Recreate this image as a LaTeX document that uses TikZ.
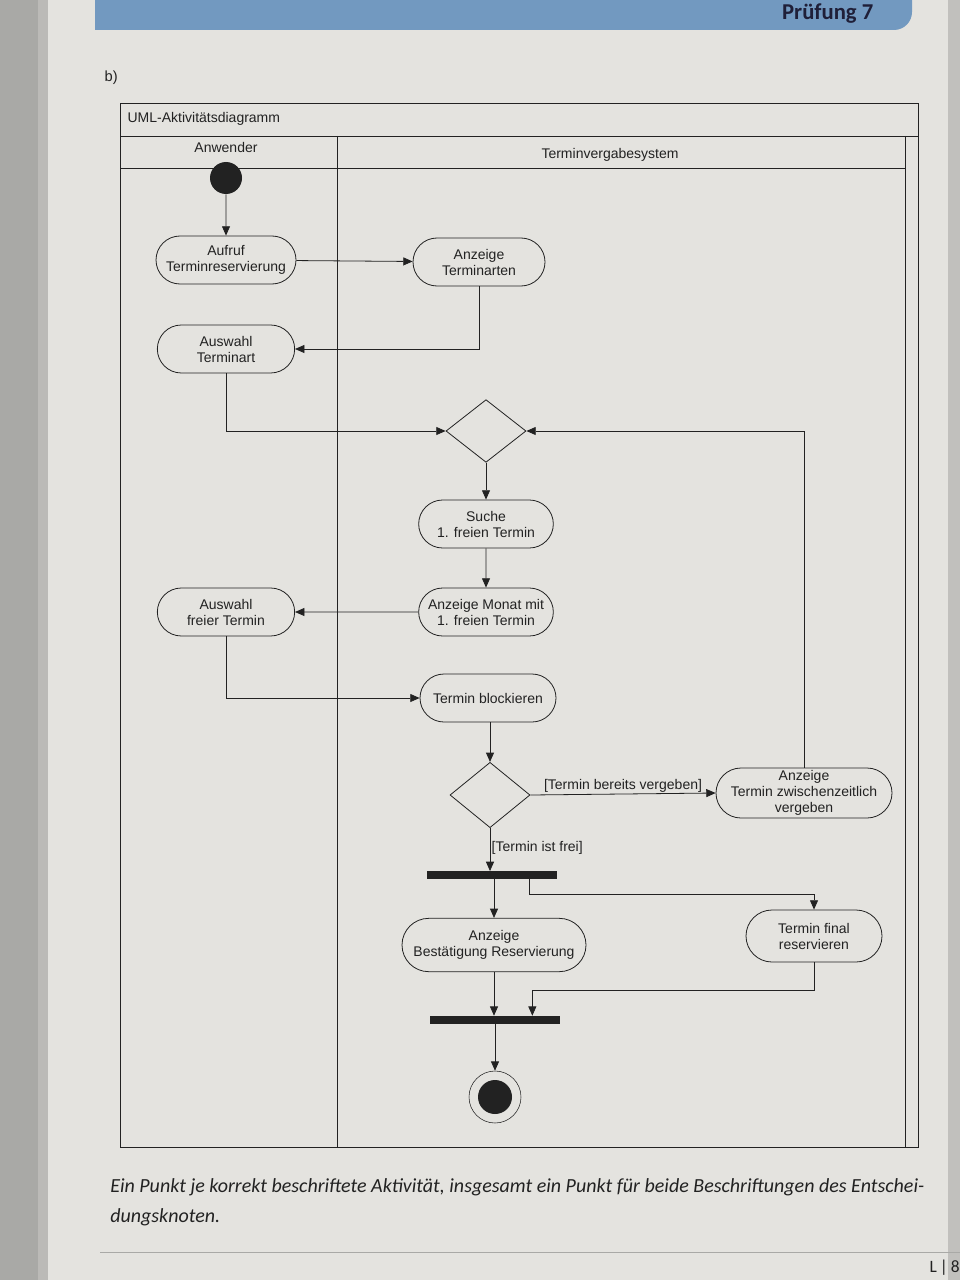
\documentclass[tikz,border=0pt]{standalone}
\usepackage{fontspec}
\setmainfont{Liberation Sans}
\newfontfamily\capfont{Carlito}
\usetikzlibrary{shapes.geometric,shapes.misc,arrows.meta,calc}
\definecolor{paper}{HTML}{E4E3DF}
\definecolor{gutter}{HTML}{A9A9A6}
\definecolor{banner}{HTML}{7299C0}
\definecolor{ink}{HTML}{222222}
\begin{document}
\begin{tikzpicture}[x=0.75pt,y=-0.75pt,
  act/.style={draw=ink, line width=0.6pt, rounded rectangle, minimum height=36pt,
    align=center, inner sep=2pt, font=\fontsize{10.5}{12}\selectfont, text=ink},
  flow/.style={draw=ink, line width=0.6pt, -{Triangle[length=7pt,width=6pt]}},
  plain/.style={draw=ink, line width=0.6pt},
  decis/.style={draw=ink, line width=0.6pt, diamond, minimum width=60pt, minimum height=47pt, inner sep=0pt},
  bar/.style={fill=ink, minimum height=5.5pt, inner sep=0pt},
  lbl/.style={font=\fontsize{10.5}{12}\selectfont, text=ink, inner sep=1pt}]
\useasboundingbox (0,0) rectangle (960,1280);
\fill[paper] (0,0) rectangle (960,1280);
\fill[gutter] (0,0) rectangle (38,1280);
\fill[gutter!70!paper] (38,0) rectangle (48,1280);
\fill[gutter!60!paper] (948,0) rectangle (960,1280);
% banner
\fill[banner] (95,0) -- (912,0) -- (912,12) arc[start angle=0,end angle=90,radius=18] -- (95,30) -- cycle;
\node[font=\capfont\bfseries\fontsize{17}{20}\selectfont, text=ink!90!blue, anchor=east] (pr) at (878,14) {Prüfung 7};
\node[font=\fontsize{11}{13}\selectfont, text=ink, anchor=west] (b) at (100,78) {b)};
% frame
\draw[plain] (120,103) rectangle (918,1147);
\draw[plain] (120,136) -- (918,136);
\draw[plain] (120,168) -- (905,168);
\draw[plain] (337,136) -- (337,1147);
\draw[plain] (905,136) -- (905,1147);
\node[lbl, anchor=west] (title) at (126,119) {UML-Aktivitätsdiagramm};
\node[lbl] (lane1) at (226,147) {Anwender};
\node[lbl] (lane2) at (610,155) {Terminvergabesystem};
% nodes
\node[circle, fill=ink, minimum size=24pt, inner sep=0] (init) at (226,178) {};
\node[act, minimum width=109pt] (aufruf) at (226,260) {Aufruf\\Terminreservierung};
\node[act, minimum width=103pt] (arten) at (479,262) {Anzeige\\Terminarten};
\node[act, minimum width=107pt] (wart) at (226,349) {Auswahl\\Terminart};
\node[decis] (d1) at (486,431) {};
\node[act, minimum width=105pt] (suche) at (486,524) {Suche\\1. freien Termin};
\node[act, minimum width=105pt] (monat) at (486,612) {Anzeige Monat mit\\1. freien Termin};
\node[act, minimum width=107pt] (wfrei) at (226,612) {Auswahl\\freier Termin};
\node[act, minimum width=106pt] (block) at (488,698) {Termin blockieren};
\node[decis, minimum height=49pt] (d2) at (490,795) {};
\node[act, minimum width=134pt, minimum height=37.5pt, inner sep=1pt] (zw) at (804,793) {Anzeige\\Termin zwischenzeitlich\\vergeben};
\node[bar, minimum width=97pt] (fork) at (492,875) {};
\node[act, minimum width=142pt, minimum height=40pt] (best) at (494,945) {Anzeige\\Bestätigung Reservierung};
\node[act, minimum width=106pt, minimum height=39pt] (tfin) at (814,936) {Termin final\\reservieren};
\node[bar, minimum width=98pt, minimum height=6pt] (join) at (495,1020) {};
\node[circle, draw=ink, line width=0.4pt, minimum size=39pt, inner sep=0] (fin) at (495,1097) {};
\node[circle, fill=ink, minimum size=25.5pt, inner sep=0] (finin) at (fin) {};
\coordinate (jy) at (0,990);
% edges
\draw[flow] (init) -- (aufruf);
\draw[flow] (aufruf) -- (arten);
\draw[flow] (arten.south) |- (wart.east);
\draw[flow] (wart.south) |- (d1.west);
\draw[flow] (d1.south) -- (suche.north);
\draw[flow] (suche) -- (monat);
\draw[flow] (monat) -- (wfrei);
\draw[flow] (wfrei.south) |- (block.west);
\draw[flow] (block.south -| d2.north) -- (d2.north);
\draw[flow] (d2.east) -- node[lbl, above] (lab1) {[Termin bereits vergeben]} (zw.west);
\draw[flow] (zw.north) |- (d1.east);
\draw[flow] (d2.south) -- node[lbl, right, pos=0.45] (lab2) {[Termin ist frei]} (fork.north -| d2.south);
\draw[flow] (fork.south -| best.north) -- (best.north);
\draw[flow] ([xshift=28pt]fork.south) -- ++(0,15) -| (tfin.north);
\draw[flow] (best.south) -- (best.south |- join.north);
\draw[flow] (tfin.south) -- (tfin.south |- jy) -| ([xshift=28pt]join.north);
\draw[flow] (join.south) -- (fin.north);
% caption
\node[font=\capfont\itshape\fontsize{15}{22.5}\selectfont, text=ink, anchor=north west, align=left, inner sep=0] (cap) at (110,1178)
  {Ein Punkt je korrekt beschriftete Aktivität, insgesamt ein Punkt für beide Beschriftungen des Entschei-\\dungsknoten.};
\draw[gutter, line width=0.6pt] (100,1252) -- (960,1252);
\node[font=\capfont\fontsize{13}{15}\selectfont, text=ink, anchor=west] (pg) at (925,1268) {L\,|\,8};
\end{tikzpicture}
\end{document}
